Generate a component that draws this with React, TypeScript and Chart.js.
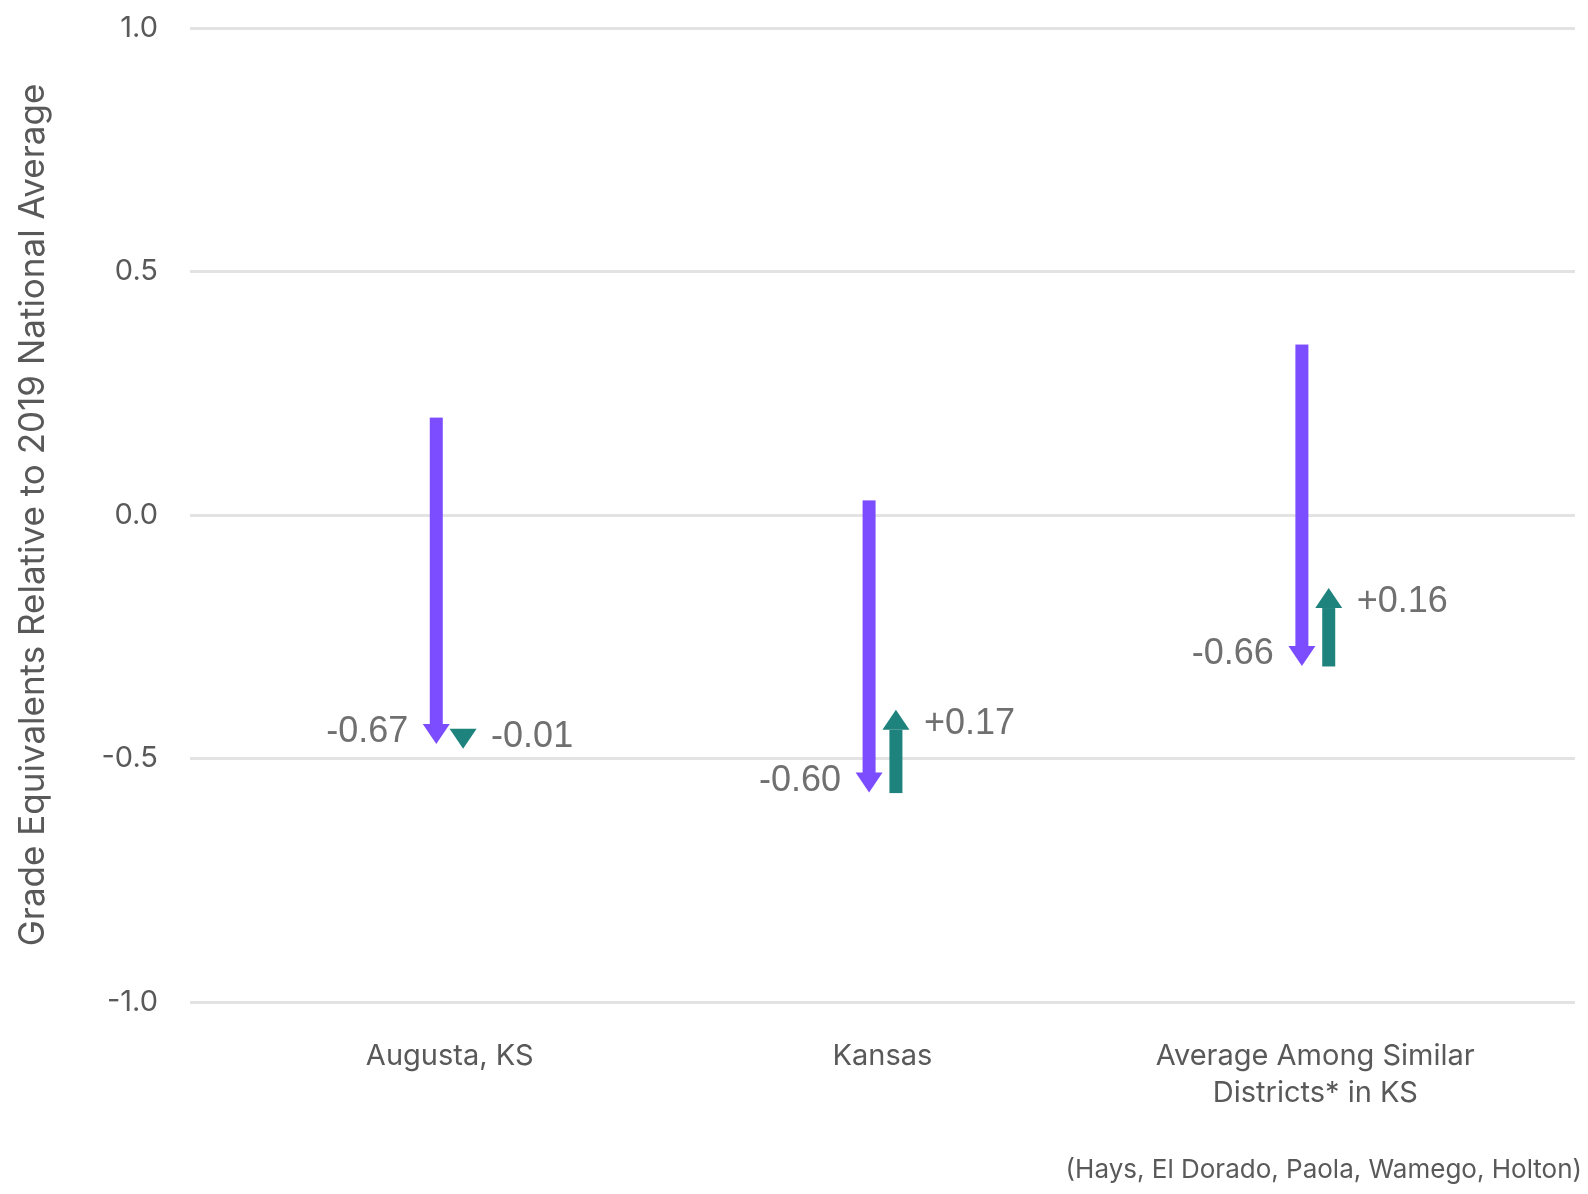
import React, { useEffect, useRef } from 'react';
import { Chart, registerables } from 'chart.js';

Chart.register(...registerables);

const categories: (string | string[])[] = ['Augusta, KS', 'Kansas', ['Average Among Similar', 'Districts* in KS']];
const categoryPositions = [0, 1, 2];
const score2019 = [0.2, 0.03, 0.35];
const change2019to2022 = [-0.67, -0.6, -0.66];
const change2022to2023 = [-0.01, 0.17, 0.16];
const yTickValues = [-1.0, -0.5, 0.0, 0.5, 1.0];
const yTitle = 'Grade Equivalents Relative to 2019 National Average';
const footnote = '(Hays, El Dorado, Paola, Wamego, Holton)';

const PURPLE = '#7C4DFF';
const TEAL = '#1E827D';
const TEXT = '#595959';
const LABEL = '#707070';
const FONT = 'Inter, "Noto Sans", sans-serif';

const HEAD_LEN = 20;
const HEAD_HALF = 13.5;
const SHAFT_HALF = 6.5;

function drawArrow(ctx: CanvasRenderingContext2D, x: number, y0: number, y1: number, color: string) {
  const dir = y1 >= y0 ? 1 : -1;
  const base = y1 - dir * HEAD_LEN;
  ctx.fillStyle = color;
  if ((base - y0) * dir > 0) {
    ctx.fillRect(x - SHAFT_HALF, Math.min(y0, base), SHAFT_HALF * 2, Math.abs(base - y0) + 0.5);
  }
  ctx.beginPath();
  ctx.moveTo(x - HEAD_HALF, base);
  ctx.lineTo(x + HEAD_HALF, base);
  ctx.lineTo(x, y1);
  ctx.closePath();
  ctx.fill();
  return dir;
}

const fmt = (v: number) => (v > 0 ? '+' : '') + v.toFixed(2);

const arrowPlugin = {
  id: 'arrows',
  afterDatasetsDraw(chart: any) {
    const { ctx } = chart;
    const xs = chart.scales.x;
    const ys = chart.scales.y;
    ctx.save();
    categoryPositions.forEach((pos, i) => {
      const s = score2019[i];
      const m = s + change2019to2022[i];
      const e = m + change2022to2023[i];
      const px = xs.getPixelForValue(pos - 0.031);
      const tx = xs.getPixelForValue(pos + 0.031);
      const ys0 = ys.getPixelForValue(s);
      const ym = ys.getPixelForValue(m);
      const ye = ys.getPixelForValue(e);
      const d1 = drawArrow(ctx, px, ys0, ym, PURPLE);
      const d2 = drawArrow(ctx, tx, ym, ye, TEAL);
      ctx.font = '36px "Liberation Sans", Arial, sans-serif';
      ctx.fillStyle = LABEL;
      ctx.textBaseline = 'middle';
      ctx.textAlign = 'right';
      const c1 = ym - d1 * HEAD_LEN / 2;
      ctx.fillText(fmt(change2019to2022[i]), px - 28, c1 + (d1 > 0 ? -2 : 4));
      ctx.textAlign = 'left';
      const c2 = ye - d2 * HEAD_LEN / 2;
      ctx.fillText(fmt(change2022to2023[i]), tx + 28, c2 + (d2 > 0 ? -2 : 4));
    });
    ctx.restore();
  },
};

const footnotePlugin = {
  id: 'footnote',
  afterDraw(chart: any) {
    const { ctx } = chart;
    ctx.save();
    ctx.font = '26px ' + FONT;
    ctx.fillStyle = TEXT;
    ctx.textAlign = 'right';
    ctx.textBaseline = 'middle';
    ctx.fillText(footnote, chart.width - 6, chart.height - 24);
    ctx.restore();
  },
};

export default function App() {
  const ref = useRef<HTMLCanvasElement>(null);

  useEffect(() => {
    document.body.style.margin = '0';
    if (!ref.current) return;
    const chart = new Chart(ref.current, {
      type: 'scatter',
      data: { datasets: [] },
      options: {
        animation: false,
        responsive: true,
        maintainAspectRatio: false,
        layout: { padding: { top: 28, right: 13, left: 0, bottom: 0 } },
        plugins: { legend: { display: false }, tooltip: { enabled: false } },
        scales: {
          x: {
            type: 'linear',
            min: -0.6,
            max: 2.6,
            afterBuildTicks: (s: any) => {
              s.ticks = categoryPositions.map((v) => ({ value: v }));
            },
            afterFit: (s: any) => {
              s.height = 192;
            },
            ticks: {
              autoSkip: false,
              maxRotation: 0,
              callback: (v: any) => categories[Number(v)] as any,
              font: { family: FONT, size: 29, lineHeight: 1.3 },
              color: TEXT,
              padding: 35,
            },
            grid: { display: false, drawTicks: false },
            border: { display: false },
          },
          y: {
            type: 'linear',
            min: -1,
            max: 1,
            afterBuildTicks: (s: any) => {
              s.ticks = yTickValues.map((v) => ({ value: v }));
            },
            afterFit: (s: any) => {
              s.width = 190;
              s.paddingTop = 0;
              s.paddingBottom = 0;
            },
            ticks: {
              callback: (v: any) => Number(v).toFixed(1),
              font: { family: FONT, size: 29 },
              color: TEXT,
              padding: 32,
            },
            grid: { color: '#e3e3e3', lineWidth: 3, drawTicks: false },
            border: { display: false },
            title: {
              display: true,
              text: yTitle,
              font: { family: FONT, size: 35, lineHeight: 1.2 },
              color: TEXT,
              padding: { top: 12, bottom: 0 },
            },
          },
        },
      },
      plugins: [arrowPlugin, footnotePlugin],
    });
    return () => chart.destroy();
  }, []);

  return (
    <div style={{ width: '1588px', height: '1194px', position: 'relative' }}>
      <canvas ref={ref} />
    </div>
  );
}
